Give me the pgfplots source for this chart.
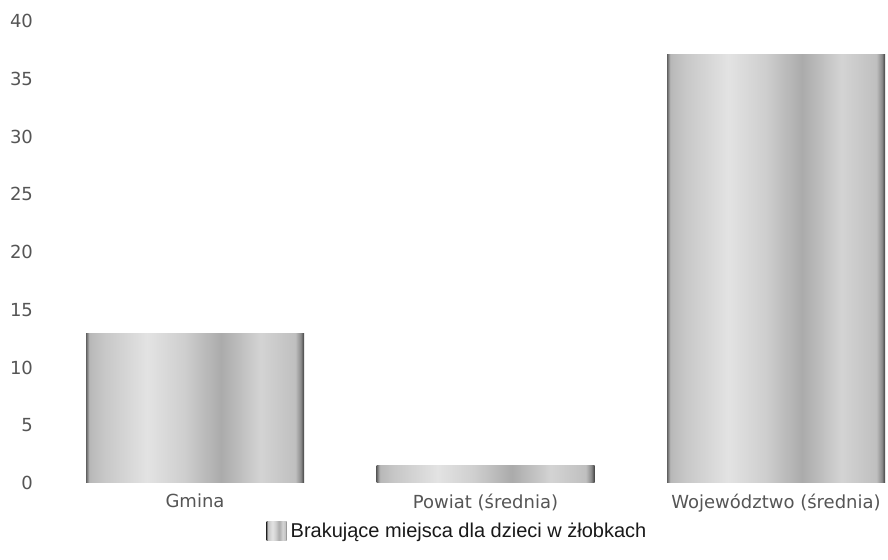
\documentclass[border=0pt]{standalone}
\usepackage{pgfplots}
\pgfplotsset{compat=1.18}
\usepackage{fontspec}
\setmainfont{DejaVu Sans}
\newfontfamily\legfont{Liberation Sans}
\definecolor{tickgray}{HTML}{555555}
\pgfdeclarehorizontalshading{barshade}{100bp}{%
color(0bp)=(black!62);
color(25bp)=(black!62);
color(25.75bp)=(black!28);
color(29bp)=(black!22);
color(39bp)=(black!11);
color(47.5bp)=(black!19);
color(56bp)=(black!33);
color(65bp)=(black!17);
color(73bp)=(black!25);
color(74.25bp)=(black!45);
color(75bp)=(black!75);
color(100bp)=(black!75)}
\begin{document}
\begin{tikzpicture}
\path[use as bounding box] (-35pt,-38.5pt) rectangle (409pt,241.5pt);
\begin{axis}[
  at={(0,0)}, anchor=south west,
  scale only axis,
  width=409pt, height=231pt,
  xmin=-0.4303, xmax=2.3855,
  ymin=0, ymax=40,
  ytick={0,5,...,40},
  xtick={0,1,2},
  xticklabels={Gmina, Powiat (średnia), Województwo (średnia)},
  axis line style={draw=none},
  major tick length=0pt,
  /pgf/number format/assume math mode=true,
  tick label style={font=\fontsize{9}{11}\selectfont, text=tickgray},
  yticklabel style={anchor=east, xshift=-15pt},
  xticklabel style={yshift=-2pt},
  legend style={at={(0.475,-0.106)}, anchor=center, draw=none,
     font=\legfont\fontsize{10}{12}\selectfont, text=black!90},
  legend image code/.code={\path[shading=barshade] (0pt,-4.5pt) rectangle (10pt,5pt);},
  clip=false,
]
\addplot[ybar, bar width=109pt, bar shift=0pt, draw=none, shading=barshade]
  coordinates {(0,12.9)};
\addlegendentry{Brakujące miejsca dla dzieci w żłobkach}
\addplot[ybar, bar width=109pt, bar shift=0pt, draw=none, shading=barshade, forget plot]
  coordinates {(1,1.55)};
\addplot[ybar, bar width=109pt, bar shift=0pt, draw=none, shading=barshade, forget plot]
  coordinates {(2,37.1)};
\end{axis}
\end{tikzpicture}
\end{document}
